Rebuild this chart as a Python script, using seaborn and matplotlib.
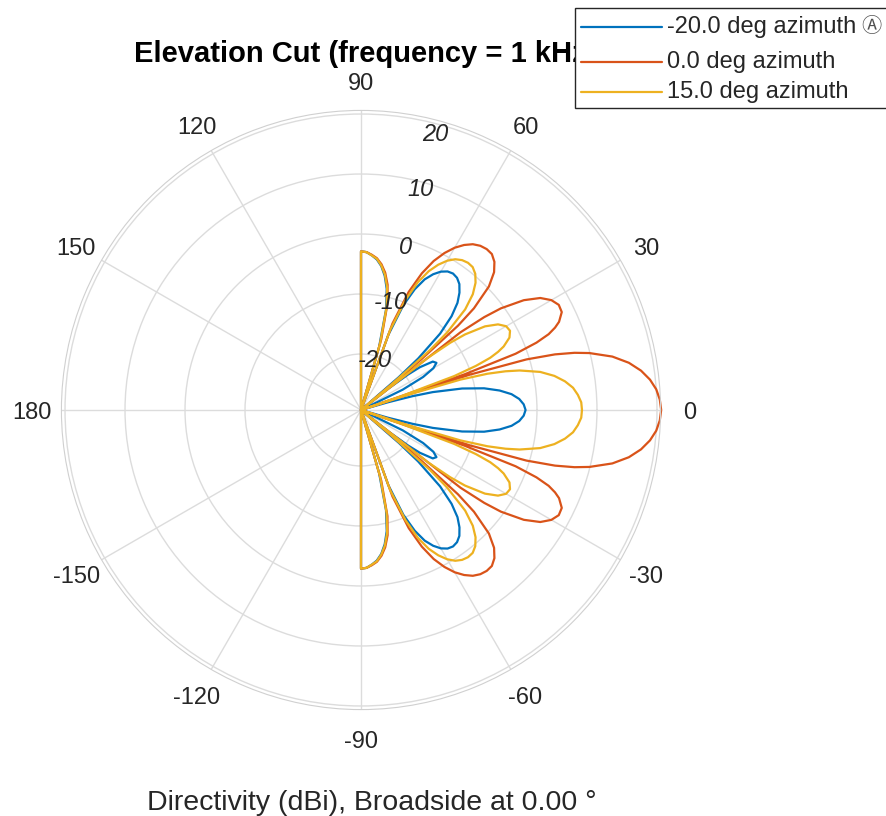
import numpy as np
import pandas as pd
import matplotlib
matplotlib.use("Agg")
import matplotlib.pyplot as plt
import matplotlib.transforms as mtransforms
import seaborn as sns
from matplotlib.patches import Rectangle
from matplotlib.lines import Line2D

# elevation angles of the cut (deg); +/-90 repeated to close the lobe to the centre
ELEV = [
    -90, -90, -88, -86, -84, -82, -80, -78, -76, -74, -72.25,
    -70, -68, -66, -64, -62, -60, -58, -56, -54, -52, -50,
    -48, -46, -44, -42, -41, -40, -39.4, -38, -37, -36, -34,
    -32, -30, -28, -26, -24, -23, -22, -21, -20, -19, -18.5,
    -18, -17, -16, -15, -14, -12, -10, -8, -6, -4, -2,
    0,
    2, 4, 6, 8, 10, 12, 14, 15, 16, 17, 18,
    18.5, 19, 20, 21, 22, 23, 24, 26, 28, 30, 32,
    34, 36, 37, 38, 39.4, 40, 41, 42, 44, 46, 48,
    50, 52, 54, 56, 58, 60, 62, 64, 66, 68, 70,
    72.25, 74, 76, 78, 80, 82, 84, 86, 88, 90, 90,
]

# directivity (dBi)
AZ_M20 = [
    -40, -2.9, -3.0, -3.5, -4.1, -5.1, -6.6, -8.7, -12.1, -18.4, -40,
    -16.0, -10.5, -7.3, -5.1, -3.7, -2.7, -2.1, -1.9, -2.1, -2.7, -3.8,
    -5.3, -7.6, -11.0, -16.5, -21.0, -30.0, -40, -23.4, -19.5, -17.2, -14.9,
    -14.5, -15.4, -17.6, -21.6, -28.8, -35.5, -40, -40, -40, -40, -40,
    -40, -30.8, -24.7, -20.4, -17.0, -12.1, -8.5, -6.0, -4.1, -2.9, -2.2,
    -1.9,
    -2.2, -2.9, -4.1, -6.0, -8.5, -12.1, -17.0, -20.4, -24.7, -30.8, -40,
    -40, -40, -40, -40, -40, -35.5, -28.8, -21.6, -17.6, -15.4, -14.5,
    -14.9, -17.2, -19.5, -23.4, -40, -30.0, -21.0, -16.5, -11.0, -7.6, -5.3,
    -3.8, -2.7, -2.1, -1.9, -2.1, -2.7, -3.7, -5.1, -7.3, -10.5, -16.0,
    -40, -18.4, -12.1, -8.7, -6.6, -5.1, -4.1, -3.5, -3.0, -2.9, -40,
]
AZ_0 = [
    -40, -2.9, -3.0, -3.4, -3.9, -4.8, -6.1, -8.0, -11.1, -17.1, -40,
    -14.0, -8.1, -4.4, -1.7, 0.3, 1.9, 3.1, 4.0, 4.5, 4.7, 4.6,
    3.9, 2.6, 0.3, -4.0, -7.9, -16.3, -40, -8.3, -3.6, -0.5, 3.4,
    5.9, 7.3, 8.0, 7.9, 6.8, 5.8, 4.4, 2.0, -1.9, -11.1, -40,
    -10.3, -0.5, 4.3, 7.5, 9.9, 13.5, 16.0, 17.8, 19.1, 20.0, 20.5,
    20.7,
    20.5, 20.0, 19.1, 17.8, 16.0, 13.5, 9.9, 7.5, 4.3, -0.5, -10.3,
    -40, -11.1, -1.9, 2.0, 4.4, 5.8, 6.8, 7.9, 8.0, 7.3, 5.9,
    3.4, -0.5, -3.6, -8.3, -40, -16.3, -7.9, -4.0, 0.3, 2.6, 3.9,
    4.6, 4.7, 4.5, 4.0, 3.1, 1.9, 0.3, -1.7, -4.4, -8.1, -14.0,
    -40, -17.1, -11.1, -8.0, -6.1, -4.8, -3.9, -3.4, -3.0, -2.9, -40,
]
AZ_15 = [
    -40, -2.9, -3.0, -3.5, -4.0, -5.0, -6.4, -8.4, -11.7, -17.8, -40,
    -15.1, -9.5, -6.0, -3.6, -1.9, -0.6, 0.3, 0.8, 1.0, 0.9, 0.3,
    -0.8, -2.5, -5.2, -10.0, -14.1, -22.7, -40, -15.2, -10.7, -7.9, -4.4,
    -2.4, -1.4, -1.2, -1.8, -3.3, -4.5, -6.1, -8.8, -12.8, -22.2, -40,
    -21.6, -12.0, -7.4, -4.4, -2.1, 1.2, 3.4, 5.0, 6.2, 6.9, 7.4,
    7.5,
    7.4, 6.9, 6.2, 5.0, 3.4, 1.2, -2.1, -4.4, -7.4, -12.0, -21.6,
    -40, -22.2, -12.8, -8.8, -6.1, -4.5, -3.3, -1.8, -1.2, -1.4, -2.4,
    -4.4, -7.9, -10.7, -15.2, -40, -22.7, -14.1, -10.0, -5.2, -2.5, -0.8,
    0.3, 0.9, 1.0, 0.8, 0.3, -0.6, -1.9, -3.6, -6.0, -9.5, -15.1,
    -40, -17.8, -11.7, -8.4, -6.4, -5.0, -4.0, -3.5, -3.0, -2.9, -40,
]

LABELS = ["-20.0 deg azimuth", "0.0 deg azimuth", "15.0 deg azimuth"]
COLORS = ["#0072BD", "#D95319", "#EDB120"]
R_TICKS = [-20, -10, 0, 10, 20]
THETA_TICKS = [0, 30, 60, 90, 120, 150, 180, -150, -120, -90, -60, -30]

TITLE = "Elevation Cut (frequency = 1 kHz)"
XLABEL = "Directivity (dBi), Broadside at 0.00 \u00b0"

RMIN, RMAX = -29.33, 20.6
TXT = "#262626"

sns.set_style("white")
plt.rcParams["font.family"] = ["Liberation Sans", "DejaVu Sans", "Noto Sans CJK JP"]

W, H = 886, 816
fig = plt.figure(figsize=(W / 100, H / 100), dpi=100)
rad = (RMAX - RMIN) * 6.0  # pixels
ax = fig.add_axes([(361 - rad) / W, (H - 410 - rad) / H, 2 * rad / W, 2 * rad / H],
                  projection="polar")

n = len(ELEV)
df = pd.DataFrame({
    "theta": np.deg2rad(ELEV * 3),
    "r": np.clip(AZ_M20 + AZ_0 + AZ_15, RMIN, None),
    "series": [LABELS[0]] * n + [LABELS[1]] * n + [LABELS[2]] * n,
})
sns.lineplot(data=df, x="theta", y="r", hue="series", hue_order=LABELS,
             palette=COLORS, sort=False, estimator=None, legend=False,
             linewidth=1.6, ax=ax)
for ln in ax.lines:
    ln.set_clip_on(False)

ax.set_ylim(RMIN, RMAX)
ax.set_yticks(R_TICKS)
ax.set_yticklabels([])
ax.set_xticks(np.deg2rad(np.arange(0, 360, 30)))
ax.set_xticklabels([])
ax.tick_params(length=0)
ax.grid(True, color="#dcdcdc", lw=1)
ax.spines["polar"].set_color("#d0d0d0")
ax.set_xlabel("")
ax.set_ylabel("")

# angle labels round the outside, nudged down a little so digits sit centred
lab_tr = mtransforms.offset_copy(ax.transData, fig=fig, x=0, y=-3, units="dots")
for a in THETA_TICKS:
    ax.text(np.deg2rad(a), 25.5, str(a), ha="center", va="center",
            fontsize=17, color=TXT, clip_on=False, transform=lab_tr)
# magnitude labels along the 75 deg direction
for v, rpos in zip(R_TICKS, [-20.2, -10.3, -0.7, 9.2, 18.7]):
    ax.text(np.deg2rad(75), rpos, str(v), ha="center", va="center",
            fontsize=17, style="italic", color=TXT, clip_on=False,
            transform=lab_tr)

fig.text(365 / W, 1 - 62 / H, TITLE, ha="center", va="baseline",
         fontsize=21, fontweight="bold", color="black", zorder=5)
fig.text(372 / W, 1 - 810 / H, XLABEL, ha="center", va="baseline",
         fontsize=20.5, color=TXT)

# legend box in the top right corner, drawn over the end of the title
fig.add_artist(Rectangle((575 / W, 1 - 108 / H), 320 / W, 100 / H,
                         transform=fig.transFigure, facecolor="white",
                         edgecolor="#262626", lw=1, zorder=10, clip_on=False))
for lab, col, y in zip(LABELS, COLORS, [27, 62, 92]):
    fig.add_artist(Line2D([581 / W, 662 / W], [1 - y / H, 1 - y / H],
                          transform=fig.transFigure, color=col, lw=1.6, zorder=11))
    fig.text(667 / W, 1 - y / H, lab, ha="left", va="center", fontsize=17,
             color=TXT, zorder=11)
fig.text(871 / W, 1 - 26 / H, "\u24b6", ha="center", va="center", fontsize=14.5,
         color="#505050", zorder=11)

fig.savefig("out.png", dpi=100)
